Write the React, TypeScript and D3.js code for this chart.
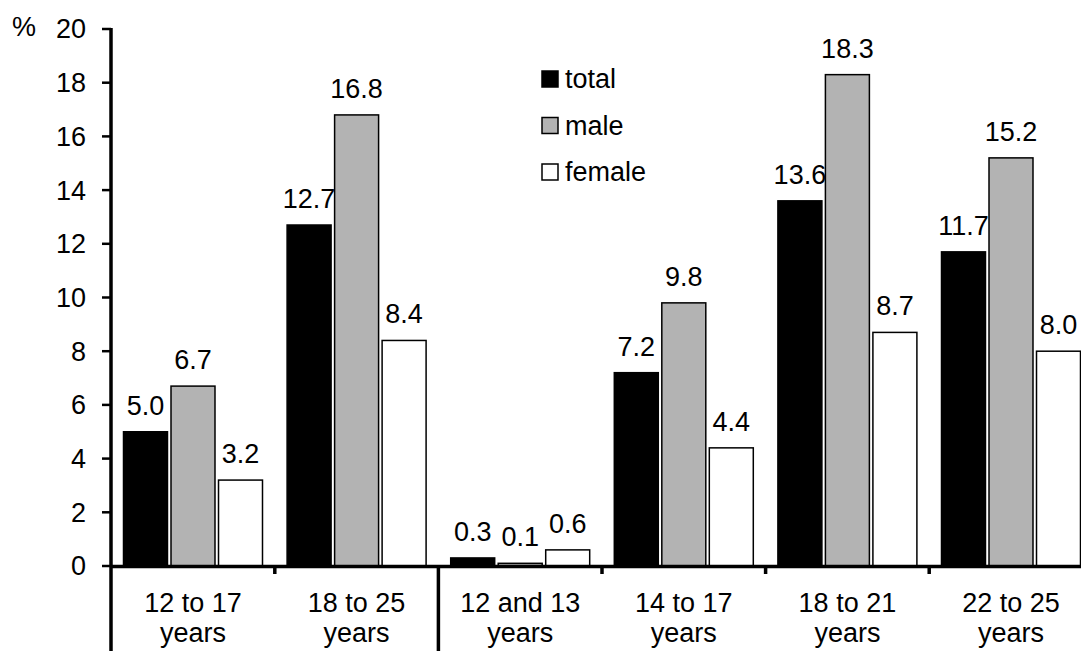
import React from "react";
import * as d3 from "d3";

const categories = ["12 to 17|years", "18 to 25|years", "12 and 13|years", "14 to 17|years", "18 to 21|years", "22 to 25|years"];
const seriesNames = ["total", "male", "female"];
const totalValues = [5.0, 12.7, 0.3, 7.2, 13.6, 11.7];
const maleValues = [6.7, 16.8, 0.1, 9.8, 18.3, 15.2];
const femaleValues = [3.2, 8.4, 0.6, 4.4, 8.7, 8.0];
const yTicks = [0, 2, 4, 6, 8, 10, 12, 14, 16, 18, 20];

const seriesValues = [totalValues, maleValues, femaleValues];
const fills = ["#000000", "#b3b3b3", "#ffffff"];

const W = 1081;
const H = 651;
const FONT = "'Liberation Sans', Arial, sans-serif";

export default function App() {
  const axisX = 111;
  const x0 = d3.scaleBand<number>().domain(d3.range(categories.length)).range([111.2, 111.2 + 6 * 163.6]);
  const x1 = d3.scaleBand<number>().domain([0, 1, 2]).range([0, x0.bandwidth()]).paddingInner(0.074).paddingOuter(0.259);
  const y = d3.scaleLinear().domain([0, 20]).range([566, 29]);
  const fs = 27;

  return (
    <svg width={W} height={H} style={{ position: "absolute", left: 0, top: 0, background: "#fff" }} fontFamily={FONT}>
      {/* bars */}
      {categories.map((c, i) =>
        seriesValues.map((vals, s) => {
          const v = vals[i];
          const bx = (x0(i) as number) + (x1(s) as number);
          const bw = x1.bandwidth();
          return (
            <g key={`${i}-${s}`}>
              <rect x={bx} y={y(v)} width={bw} height={y(0) - y(v)} fill={fills[s]} stroke="#000" strokeWidth={1.5} />
              <text x={bx + bw / 2} y={y(v) - 17} textAnchor="middle" fontSize={fs} fill="#000">
                {v.toFixed(1)}
              </text>
            </g>
          );
        })
      )}
      {/* y axis */}
      <line x1={axisX} x2={axisX} y1={y(20) - 1} y2={H} stroke="#000" strokeWidth={3.5} />
      {yTicks.map((t) => (
        <g key={t}>
          <line x1={102} x2={axisX} y1={y(t)} y2={y(t)} stroke="#000" strokeWidth={2.5} />
          <text x={86} y={y(t)} dy="0.35em" textAnchor="end" fontSize={fs} fill="#000">
            {t}
          </text>
        </g>
      ))}
      <text x={12} y={36} fontSize={fs} fill="#000">%</text>
      {/* x axis */}
      <line x1={axisX} x2={W} y1={y(0) + 0.5} y2={y(0) + 0.5} stroke="#000" strokeWidth={3.5} />
      {categories.map((c, i) => {
        if (i === 0) return null;
        const bx = x0(i) as number;
        const isDivider = i === 2;
        return (
          <line key={`t${i}`} x1={bx} x2={bx} y1={y(0)} y2={isDivider ? H : y(0) + 8} stroke="#000" strokeWidth={3.5} />
        );
      })}
      {categories.map((c, i) => {
        const cx = (x0(i) as number) + x0.bandwidth() / 2;
        const lines = c.split("|");
        return (
          <text key={`c${i}`} x={cx} textAnchor="middle" fontSize={fs} fill="#000">
            {lines.map((l, k) => (
              <tspan key={k} x={cx} y={612 + k * 30}>{l}</tspan>
            ))}
          </text>
        );
      })}
      {/* legend */}
      {seriesNames.map((n, s) => {
        const cy = 79 + s * 46.5;
        return (
          <g key={n}>
            <rect x={542} y={cy - 8} width={16} height={16} fill={fills[s]} stroke="#000" strokeWidth={1.5} />
            <text x={565} y={cy} dy="0.35em" fontSize={fs} fill="#000">{n}</text>
          </g>
        );
      })}
    </svg>
  );
}
